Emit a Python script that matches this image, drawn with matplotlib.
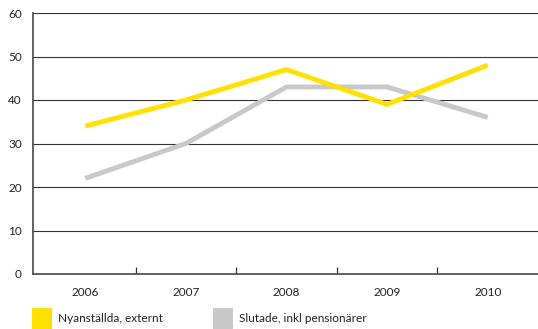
import matplotlib
matplotlib.use("Agg")
import matplotlib.pyplot as plt
from matplotlib.patches import Rectangle

years = ["2006", "2007", "2008", "2009", "2010"]
nyanstallda = [34, 40, 47, 39, 48]
slutade = [22, 30, 43, 43, 36]
yticks = [0, 10, 20, 30, 40, 50, 60]
series_names = ["Nyanställda, externt", "Slutade, inkl pensionärer"]
colors = ["#ffe000", "#c8c8c8"]

plt.rcParams['font.family'] = ['Lato', 'DejaVu Sans']

fig = plt.figure(figsize=(5.38, 3.29), dpi=100)
ax = fig.add_axes([33/538, 1-274/329, 1-33/538, (274-13)/329])

x = list(range(len(years)))
ax.plot(x, nyanstallda, color=colors[0], lw=3.5, solid_capstyle='butt', zorder=3)
ax.plot(x, slutade, color=colors[1], lw=3.5, solid_capstyle='butt', zorder=2)

ax.set_xlim(-0.52, 4.5)
ax.set_ylim(0, 60)
ax.set_yticks(yticks)
ax.set_yticklabels([str(v) for v in yticks])
ax.set_xticks(x)
ax.set_xticklabels(years)
ax.set_xticks([0.5, 1.5, 2.5, 3.5], minor=True)
ax.tick_params(axis='x', which='major', length=0, pad=9, labelsize=8.5, colors='#222222')
ax.tick_params(axis='x', which='minor', length=5, direction='in', width=0.9, color='#333333')
ax.tick_params(axis='y', length=0, pad=8, labelsize=8.5, colors='#222222')
for lab in ax.get_yticklabels():
    lab.set_color('#222222')

for v in yticks[1:]:
    ax.axhline(v, color='#333333', lw=0.8, zorder=1)

for s in ['top', 'right']:
    ax.spines[s].set_visible(False)
ax.spines['left'].set_color('#555555')
ax.spines['left'].set_linewidth(1.3)
ax.spines['bottom'].set_color('#555555')
ax.spines['bottom'].set_linewidth(1.3)

# legend
W, H = 538, 329
legend_x = [32, 213]
for i, name in enumerate(series_names):
    fig.patches.append(Rectangle((legend_x[i]/W, 0), 20/W, 21/H, transform=fig.transFigure,
                                 facecolor=colors[i], edgecolor='none'))
    fig.text((legend_x[i]+26)/W, 1-318/H, name, fontsize=8.5, color='#222222', va='center', ha='left')

fig.savefig("out.png", dpi=100)
